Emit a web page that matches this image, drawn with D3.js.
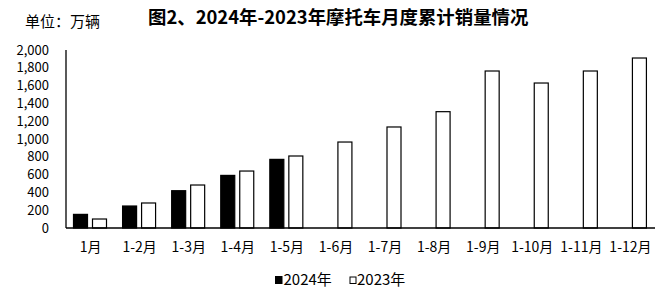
<!DOCTYPE html>
<html>
<head>
<meta charset="utf-8">
<script src="https://cdn.jsdelivr.net/npm/d3@7"></script>
<style>
  html, body { margin: 0; padding: 0; background: #fff; }
  svg { display: block; }
  text { font-family: "Noto Sans CJK SC", "Liberation Sans", sans-serif; fill: #000; }
</style>
</head>
<body>
<svg id="chart" width="669" height="297"></svg>
<script>
const categories = ['1月','1-2月','1-3月','1-4月','1-5月','1-6月','1-7月','1-8月','1-9月','1-10月','1-11月','1-12月'];
const series2024 = [153, 247, 419, 591, 771, null, null, null, null, null, null, null];
const series2023 = [101, 281, 483, 640, 809, 966, 1135, 1307, 1764, 1629, 1764, 1910];
const seriesNames = ['2024年', '2023年'];
const yTicks = [0, 200, 400, 600, 800, 1000, 1200, 1400, 1600, 1800, 2000];

const svg = d3.select('#chart');
const plotL = 66, plotR = 655, plotT = 50, plotB = 228;

const x0 = d3.scaleBand().domain(categories).range([plotL, plotR]).padding(0);
const x1 = d3.scaleBand().domain(seriesNames).range([7.5, 40.5]).paddingInner(0.263).paddingOuter(0);
const y = d3.scaleLinear().domain([0, 2000]).range([plotB, plotT]);

// title
svg.append('text').attr('x', 25).attr('y', 26.5).attr('font-size', 15).text('单位：万辆');
svg.append('text').attr('x', 148).attr('y', 24).attr('font-size', 18.4).attr('font-weight', 'bold')
  .text('图2、2024年-2023年摩托车月度累计销量情况');

// y tick labels
svg.append('g').selectAll('text').data(yTicks).join('text')
  .attr('x', 49).attr('y', d => y(d)).attr('dy', '0.35em')
  .attr('text-anchor', 'end').attr('font-size', 13)
  .text(d => d3.format(',')(d));

// bars
const rows = categories.map((c, i) => ({c, v: [series2024[i], series2023[i]]}));
const g = svg.append('g');
rows.forEach(r => {
  r.v.forEach((v, j) => {
    if (v == null) return;
    const name = seriesNames[j];
    g.append('rect')
      .attr('x', x0(r.c) + x1(name))
      .attr('y', y(v))
      .attr('width', x1.bandwidth())
      .attr('height', y(0) - y(v))
      .attr('fill', j === 0 ? '#000' : '#fff')
      .attr('stroke', '#000')
      .attr('stroke-width', 1.2);
  });
});

// axes lines
svg.append('line').attr('x1', plotL).attr('x2', plotL).attr('y1', plotT).attr('y2', plotB)
  .attr('stroke', '#000').attr('stroke-width', 1.3);
svg.append('line').attr('x1', plotL).attr('x2', plotR).attr('y1', plotB).attr('y2', plotB)
  .attr('stroke', '#000').attr('stroke-width', 1.5);

// x labels
svg.append('g').selectAll('text').data(categories).join('text')
  .attr('x', d => x0(d) + x0.bandwidth() / 2).attr('y', 247).attr('dy', '0.35em')
  .attr('text-anchor', 'middle').attr('font-size', 14)
  .text(d => d);

// legend
const lg = svg.append('g');
lg.append('rect').attr('x', 275).attr('y', 276).attr('width', 7.5).attr('height', 8).attr('fill', '#000');
lg.append('text').attr('x', 283.5).attr('y', 280).attr('dy', '0.35em').attr('font-size', 15).text(seriesNames[0]);
lg.append('rect').attr('x', 350).attr('y', 277).attr('width', 6).attr('height', 6.5)
  .attr('fill', '#fff').attr('stroke', '#000').attr('stroke-width', 1);
lg.append('text').attr('x', 357).attr('y', 280).attr('dy', '0.35em').attr('font-size', 15).text(seriesNames[1]);
</script>
</body>
</html>
